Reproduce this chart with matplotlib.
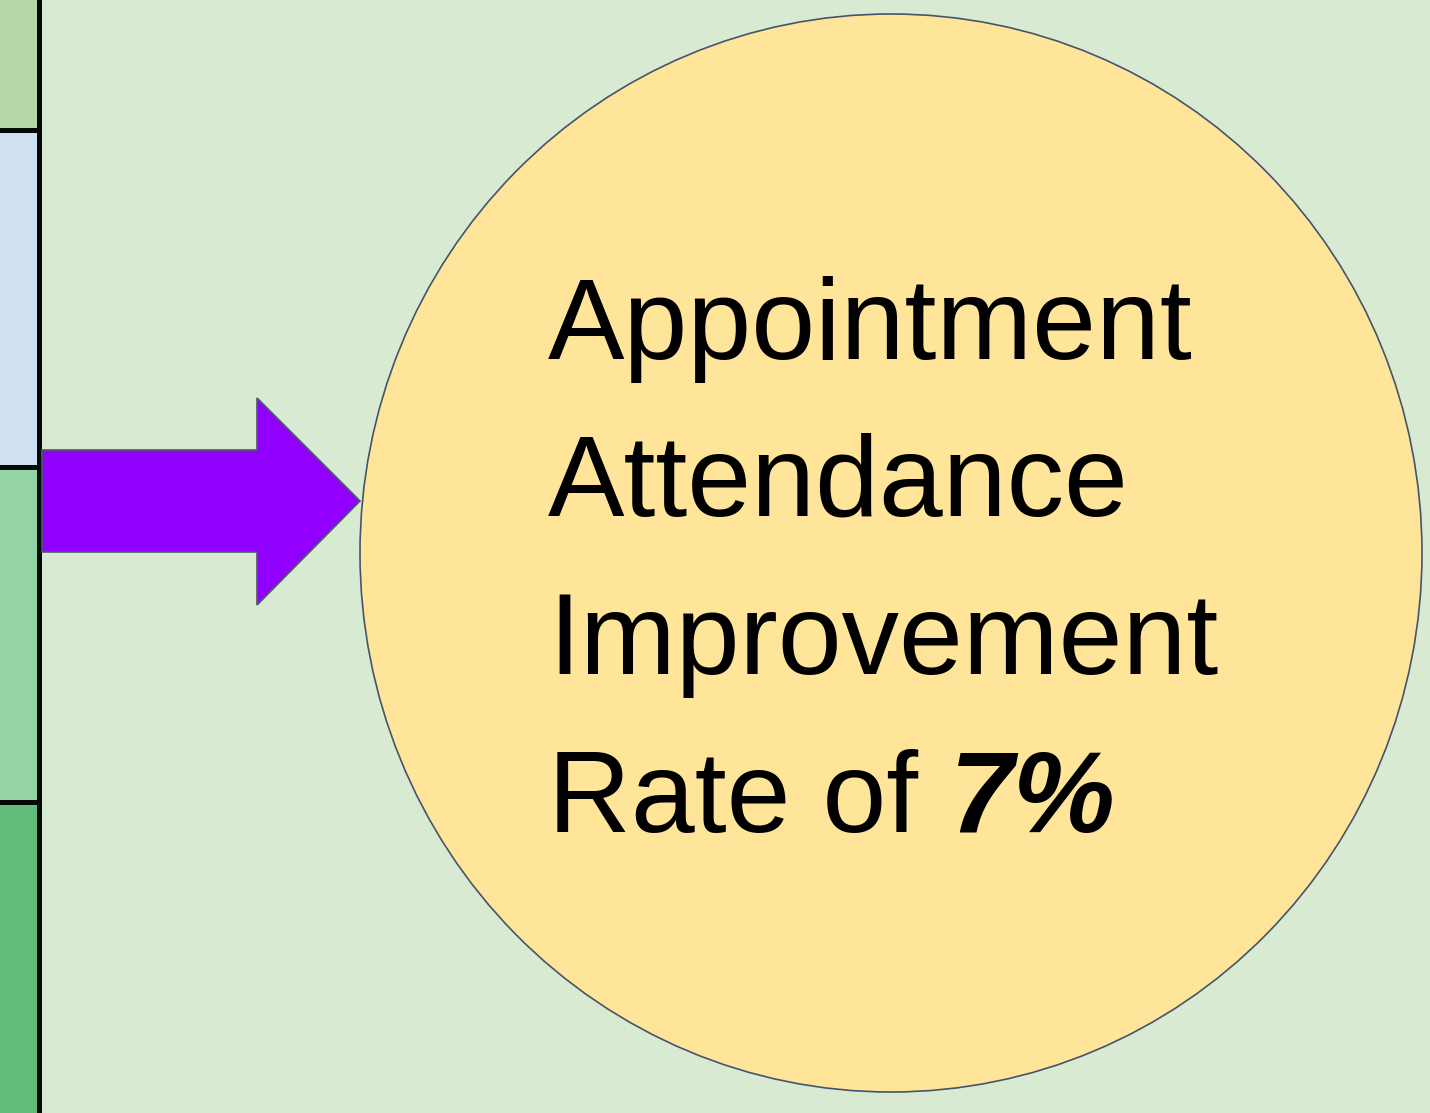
import matplotlib
matplotlib.use("Agg")
import matplotlib.pyplot as plt
from matplotlib.patches import Rectangle, Ellipse, Polygon

# left strip segments (fill colours, top to bottom) and their pixel heights
seg_colors = ['#b4d8a6', '#cfe0f3', '#93d3a4', '#62bd7b']
seg_heights = [128, 332, 330, 308]

# text in the circle
lines = ['Appointment', 'Attendance', 'Improvement', 'Rate of ']
highlight = '7%'

W, H = 1430, 1113
fig = plt.figure(figsize=(W / 100, H / 100), dpi=100)
ax = fig.add_axes([0, 0, 1, 1])
ax.set_xlim(0, W)
ax.set_ylim(H, 0)
ax.axis('off')
fig.patch.set_facecolor('#d9ead3')

# strip on the left
y = 0
for c, h in zip(seg_colors, seg_heights):
    ax.add_patch(Rectangle((0, y), 37, h, facecolor=c, edgecolor='none'))
    y += h
    ax.add_patch(Rectangle((0, y), 40, 5, facecolor='#050a08', edgecolor='none'))
    y += 5
ax.add_patch(Rectangle((37, 0), 5, H, facecolor='#050a08', edgecolor='none'))

# arrow
arrow = [(42, 450), (257, 450), (257, 398), (360, 501), (257, 605), (257, 552), (42, 552)]
ax.add_patch(Polygon(arrow, closed=True, facecolor='#9100ff', edgecolor='#4b5a68', lw=1.2))

# circle
ax.add_patch(Ellipse((891, 553), 1062, 1078, facecolor='#ffe599', edgecolor='#46546a', lw=1.2))

fs = 82.6
x0 = 548
base = [359, 516, 674, 832]
for t, b in zip(lines, base):
    txt = ax.text(x0, b, t, fontsize=fs, family='Liberation Sans', va='baseline', ha='left', color='black')

fig.canvas.draw()
r = fig.canvas.get_renderer()
ext = txt.get_window_extent(renderer=r)
inv = ax.transData.inverted()
xe = inv.transform((ext.x1, ext.y0))[0]
ax.text(xe, base[-1], highlight, fontsize=fs, family='Liberation Sans', weight='bold',
        style='italic', va='baseline', ha='left', color='black')

fig.savefig('out.png', dpi=100, facecolor=fig.get_facecolor())
